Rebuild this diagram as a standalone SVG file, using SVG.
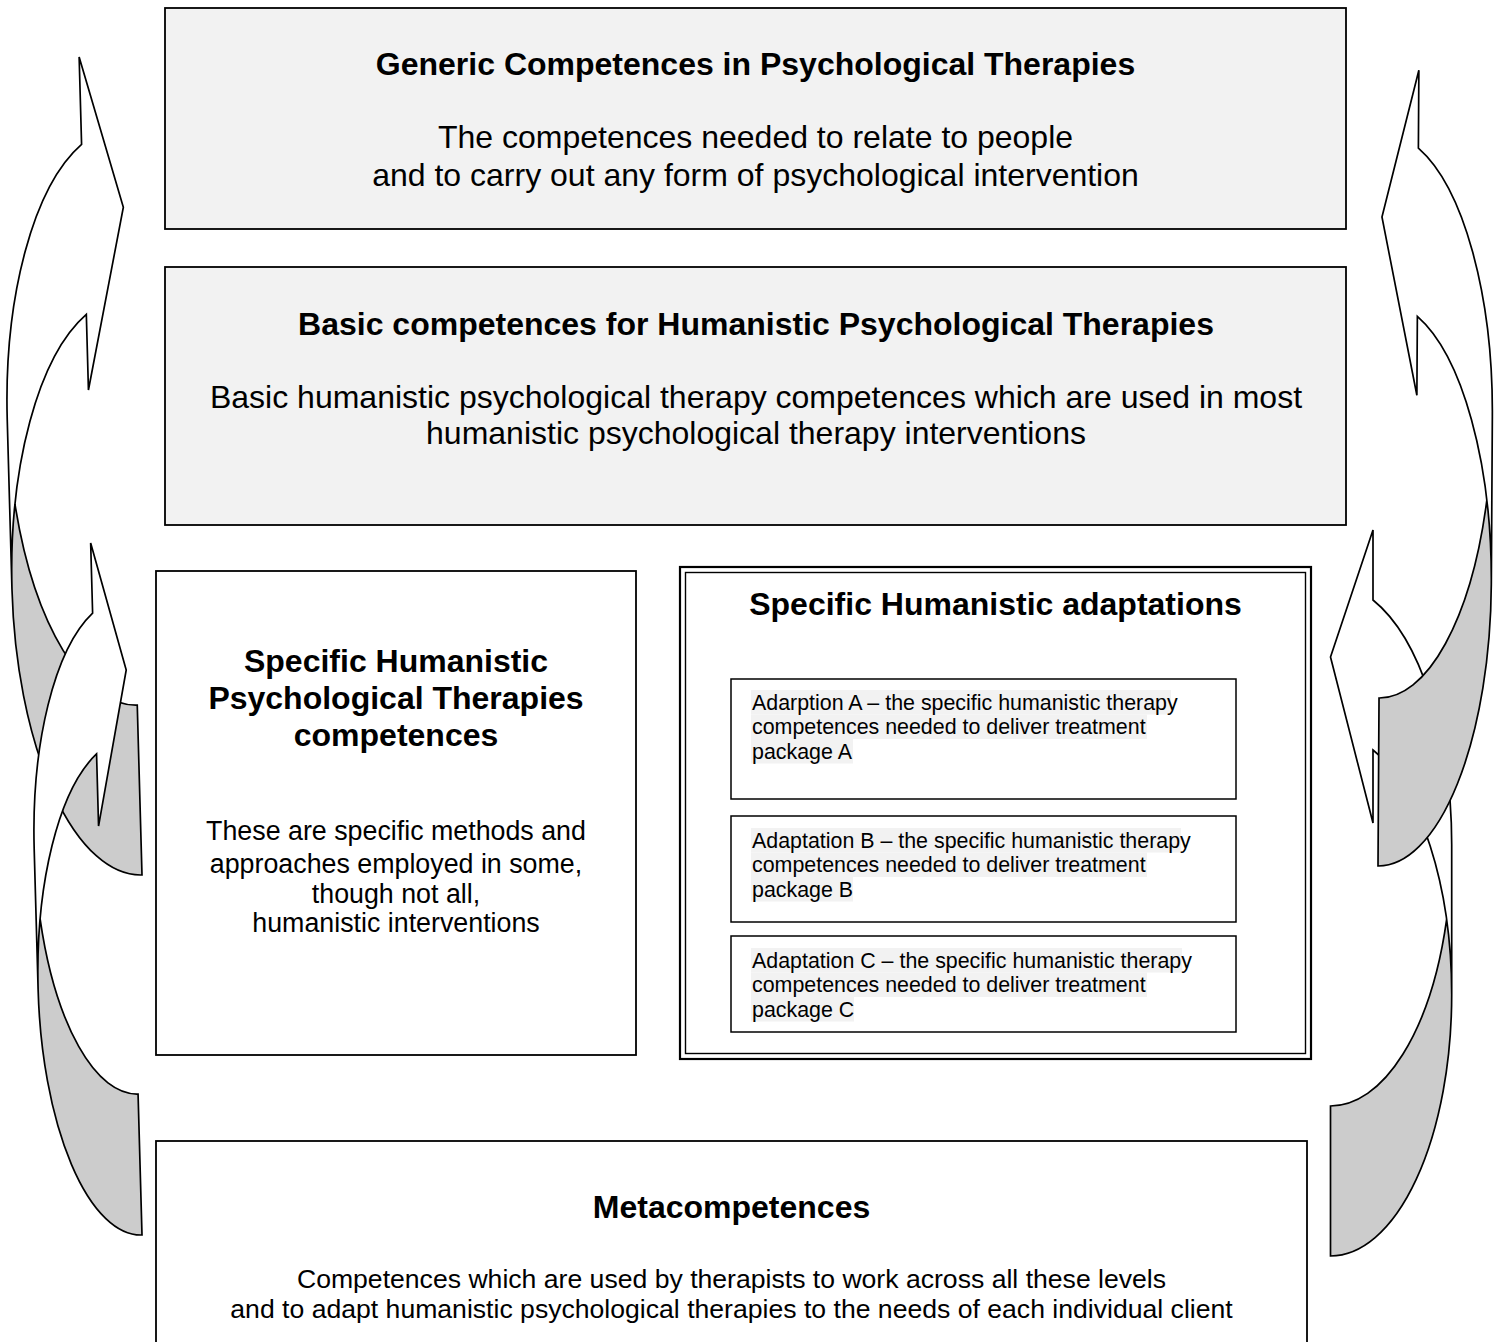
<svg xmlns="http://www.w3.org/2000/svg" width="1502" height="1342" viewBox="0 0 1502 1342">
<style>
.box{fill:#fff;stroke:#000;stroke-width:1.8}
.sub{fill:#fff;stroke:#000;stroke-width:1.5}
.t{font-family:"Liberation Sans",Arial,sans-serif;fill:#000}
.ttl{font-size:32px;font-weight:bold;text-anchor:middle}
.b32{font-size:32px;text-anchor:middle}
.b27{font-size:26.8px;text-anchor:middle}
.b26{font-size:26.6px;text-anchor:middle}
.s22{font-size:21.4px}
.hl{fill:#f2f2f2}
.back{fill:#cccccc;stroke:none}
.front{fill:#fff;stroke:none}
.ol{fill:none;stroke:#000;stroke-width:1.7;stroke-linejoin:miter}
</style>
<rect width="1502" height="1342" fill="#fff"/>

<g id="connectors">
  <g id="arrow-left-1" transform="rotate(-1.6 142 875)">
    <path class="back" d="M142,875 A122,289 0 0 1 25.4,501 A122,289 0 0 0 142,705 Z"/>
    <path class="front" d="M20,416 A122,289 0 0 1 102,143 L102,55.6 L142,207 L102,388.7 L102,313 A122,289 0 0 0 20,586 Z"/>
    <path class="ol" d="M20,586 L20,416 A122,289 0 0 1 102,143 L102,55.6 L142,207 L102,388.7 L102,313 A122,289 0 0 0 20,586 A122,289 0 0 0 142,875 L142,705 A122,289 0 0 1 25.4,501"/>
  </g>
  <g id="arrow-left-2" transform="rotate(-1.6 142 1235)">
    <path class="back" d="M142,1235 A97,248 0 0 1 49,916.5 A97,248 0 0 0 142,1094 Z"/>
    <path class="front" d="M45,846 A97,248 0 0 1 110,611.9 L110,541.9 L142,669.8 L110,825 L110,752.9 A97,248 0 0 0 45,987 Z"/>
    <path class="ol" d="M45,987 L45,846 A97,248 0 0 1 110,611.9 L110,541.9 L142,669.8 L110,825 L110,752.9 A97,248 0 0 0 45,987 A97,248 0 0 0 142,1235 L142,1094 A97,248 0 0 1 49,916.5"/>
  </g>
  <g id="arrow-right-2">
    <path class="back" d="M1330.5,1256 A121.2,261.3 0 0 0 1446.6,919.7 A121.2,261.3 0 0 1 1330.5,1106 Z"/>
    <path class="front" d="M1451.7,844.7 A121.2,261.3 0 0 0 1373,600 L1373,530 L1330.5,657 L1373,823 L1373,750 A121.2,261.3 0 0 1 1451.7,994.7 Z"/>
    <path class="ol" d="M1451.7,994.7 L1451.7,844.7 A121.2,261.3 0 0 0 1373,600 L1373,530 L1330.5,657 L1373,823 L1373,750 A121.2,261.3 0 0 1 1451.7,994.7 A121.2,261.3 0 0 1 1330.5,1256 L1330.5,1106 A121.2,261.3 0 0 0 1446.6,919.7"/>
  </g>
  <g id="arrow-right-1" transform="rotate(0.35 1378 866)">
    <path class="back" d="M1378,866 A111.6,282.5 0 0 0 1484.6,499.5 A111.6,282.5 0 0 1 1378,698 Z"/>
    <path class="front" d="M1489.6,415.5 A111.6,282.5 0 0 0 1414,148 L1414,70 L1378,217 L1414,395 L1414,316.1 A111.6,282.5 0 0 1 1489.6,583.5 Z"/>
    <path class="ol" d="M1489.6,583.5 L1489.6,415.5 A111.6,282.5 0 0 0 1414,148 L1414,70 L1378,217 L1414,395 L1414,316.1 A111.6,282.5 0 0 1 1489.6,583.5 A111.6,282.5 0 0 1 1378,866 L1378,698 A111.6,282.5 0 0 0 1484.6,499.5"/>
  </g>
</g>

<g id="generic">
  <rect class="box" x="165" y="8" width="1181" height="221" style="fill:#f2f2f2"/>
  <text class="t ttl" x="755.5" y="75">Generic Competences in Psychological Therapies</text>
  <text class="t b32" x="755.5" y="148">The competences needed to relate to people</text>
  <text class="t b32" x="755.5" y="186">and to carry out any form of psychological intervention</text>
</g>

<g id="basic">
  <rect class="box" x="165" y="267" width="1181" height="258" style="fill:#f2f2f2"/>
  <text class="t ttl" x="756" y="335">Basic competences for Humanistic Psychological Therapies</text>
  <text class="t b32" x="756" y="408">Basic humanistic psychological therapy competences which are used in most</text>
  <text class="t b32" x="756" y="444">humanistic psychological therapy interventions</text>
</g>

<g id="specific-competences">
  <rect class="box" x="156" y="571" width="480" height="484"/>
  <text class="t ttl" x="396" y="672">Specific Humanistic</text>
  <text class="t ttl" x="396" y="709">Psychological Therapies</text>
  <text class="t ttl" x="396" y="746">competences</text>
  <text class="t b27" x="396" y="840">These are specific methods and</text>
  <text class="t b27" x="396" y="873">approaches employed in some,</text>
  <text class="t b27" x="396" y="903">though not all,</text>
  <text class="t b27" x="396" y="932">humanistic interventions</text>
</g>

<g id="adaptations">
  <rect x="680" y="567" width="631" height="492" fill="#fff" stroke="#000" stroke-width="2.2"/>
  <rect x="685.5" y="572.5" width="620" height="481" fill="none" stroke="#000" stroke-width="1.4"/>
  <text class="t ttl" x="995.5" y="615">Specific Humanistic adaptations</text>
</g>

<g id="adaptation-a">
  <rect class="sub" x="731" y="679" width="505" height="120"/>
  <rect class="hl" x="751" y="690" width="420" height="24.5"/>
  <rect class="hl" x="751" y="714.5" width="396" height="24.5"/>
  <rect class="hl" x="751" y="739" width="102" height="24.5"/>
  <text class="t s22" x="752" y="709.5">Adarption A – the specific humanistic therapy</text>
  <text class="t s22" x="752" y="734">competences needed to deliver treatment</text>
  <text class="t s22" x="752" y="758.5">package A</text>
</g>

<g id="adaptation-b">
  <rect class="sub" x="731" y="816" width="505" height="106"/>
  <rect class="hl" x="751" y="828" width="430" height="24.5"/>
  <rect class="hl" x="751" y="852.5" width="396" height="24.5"/>
  <rect class="hl" x="751" y="877" width="102" height="24.5"/>
  <text class="t s22" x="752" y="847.5">Adaptation B – the specific humanistic therapy</text>
  <text class="t s22" x="752" y="872">competences needed to deliver treatment</text>
  <text class="t s22" x="752" y="896.5">package B</text>
</g>

<g id="adaptation-c">
  <rect class="sub" x="731" y="936" width="505" height="96"/>
  <rect class="hl" x="751" y="948" width="431" height="24.5"/>
  <rect class="hl" x="751" y="972.5" width="396" height="24.5"/>
  <rect class="hl" x="751" y="997" width="103" height="24.5"/>
  <text class="t s22" x="752" y="967.5">Adaptation C – the specific humanistic therapy</text>
  <text class="t s22" x="752" y="992">competences needed to deliver treatment</text>
  <text class="t s22" x="752" y="1016.5">package C</text>
</g>

<g id="metacompetences">
  <rect class="box" x="156" y="1141" width="1151" height="215"/>
  <text class="t ttl" x="731.5" y="1218">Metacompetences</text>
  <text class="t b26" x="731.5" y="1288">Competences which are used by therapists to work across all these levels</text>
  <text class="t b26" x="731.5" y="1318">and to adapt humanistic psychological therapies to the needs of each individual client</text>
</g>
</svg>
